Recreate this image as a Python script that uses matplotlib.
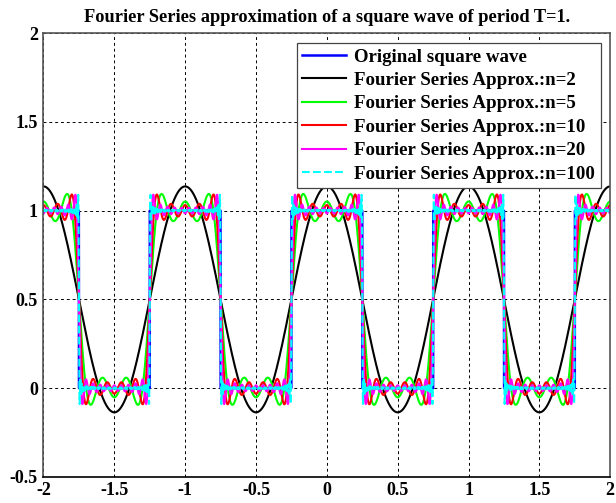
import numpy as np
import matplotlib
matplotlib.use('Agg')
import matplotlib.pyplot as plt

# chart content
T = 1.0
n_values = [2, 5, 10, 20, 100]
labels = ['Original square wave'] + ['Fourier Series Approx.:n=%d' % n for n in n_values]
x_ticks = [-2, -1.5, -1, -0.5, 0, 0.5, 1, 1.5, 2]
x_tick_labels = ['-2', '-1.5', '-1', '-0.5', '0', '0.5', '1', '1.5', '2']
y_ticks = [-0.5, 0, 0.5, 1, 1.5, 2]
y_tick_labels = ['-0.5', '0', '0.5', '1', '1.5', '2']

colors = ['blue', 'black', '#00ff00', 'red', 'magenta', 'cyan']

plt.rcParams['font.family'] = ['Liberation Serif', 'DejaVu Serif']
plt.rcParams['font.weight'] = 'bold'

x = np.linspace(-2, 2, 8001)
square = np.where(np.cos(2 * np.pi * x / T) >= 0, 1.0, 0.0)


def fourier_approx(x, n):
    # partial sum of the square wave series, harmonics k = 1..n
    y = np.full_like(x, 0.5)
    for k in range(1, n + 1):
        if k % 2 == 1:
            y += 2 / (k * np.pi) * (-1) ** ((k - 1) // 2) * np.cos(2 * np.pi * k * x / T)
    return y


fig = plt.figure(figsize=(6.16, 5.03), dpi=100)
ax = fig.add_axes([0.0706, 0.052, 0.920, 0.882])

ax.plot(x, square, color=colors[0], lw=1.8, label=labels[0])
for i, n in enumerate(n_values):
    ls = '--' if n == 100 else '-'
    ax.plot(x, fourier_approx(x, n), color=colors[i + 1], lw=1.5, ls=ls, label=labels[i + 1])

ax.set_xlim(-2, 2)
ax.set_ylim(-0.5, 2)
ax.set_xticks(x_ticks)
ax.set_xticklabels(x_tick_labels)
ax.set_yticks(y_ticks)
ax.set_yticklabels(y_tick_labels)
ax.tick_params(labelsize=13, length=0, pad=4)
for lab in ax.get_xticklabels() + ax.get_yticklabels():
    lab.set_fontweight('bold')
ax.grid(True, color='black', ls=(0, (3, 3)), lw=0.7)
for s in ax.spines.values():
    s.set_color('#555555')
    s.set_linewidth(1.2)
ax.spines['bottom'].set_color('black')

ax.set_title('Fourier Series approximation of a square wave of period T=1.',
             fontsize=13.2, fontweight='bold', pad=8)

leg = ax.legend(loc='upper right', prop={'weight': 'bold', 'size': 13.6},
                fancybox=False, framealpha=1, edgecolor='#444444',
                borderaxespad=0.5, handlelength=2.3, labelspacing=0.33,
                borderpad=0.3, handletextpad=0.45)
leg.get_frame().set_linewidth(0.9)

fig.savefig('out.png', dpi=100)
